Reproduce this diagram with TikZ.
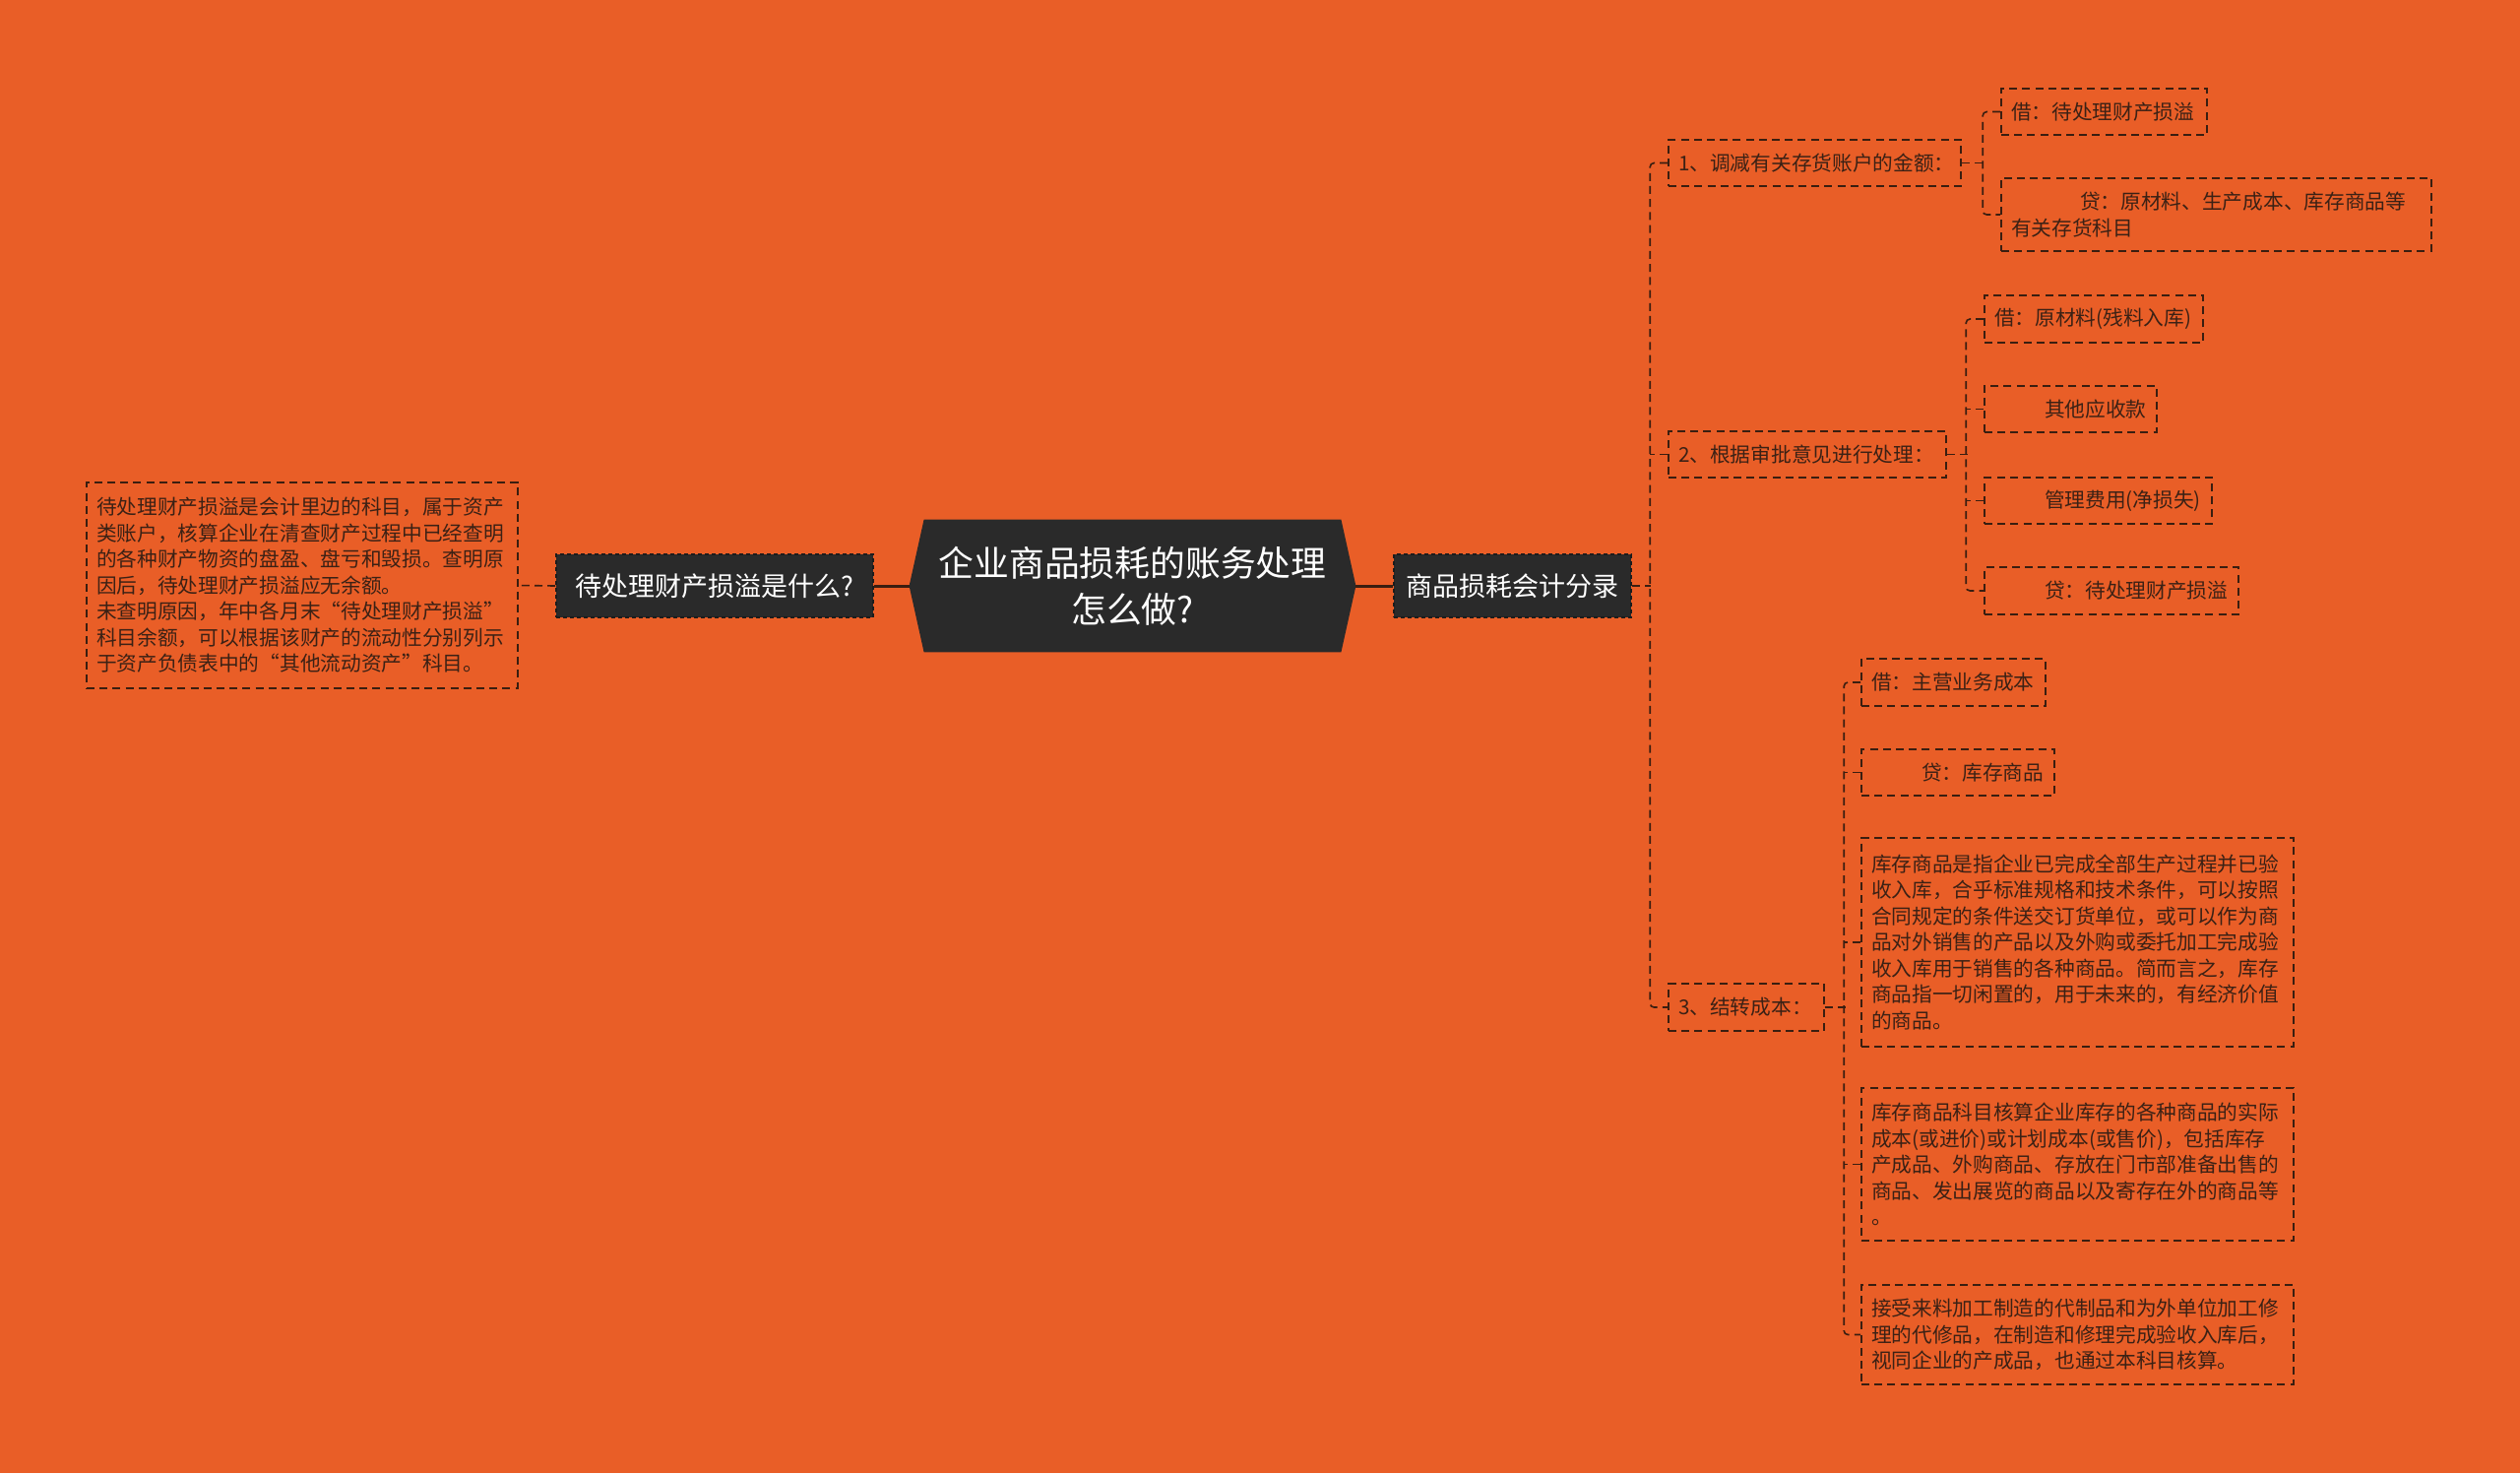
\documentclass[tikz,border=0pt]{standalone}
\usepackage{fontspec}
\setmainfont{Noto Sans CJK SC}
\usetikzlibrary{backgrounds}
\definecolor{bgc}{HTML}{E95E27}
\definecolor{lc}{HTML}{3A1E10}
\definecolor{tc}{HTML}{3B2115}
\definecolor{dkf}{HTML}{2A2A2A}
\definecolor{dkb}{HTML}{1C1C1C}
\begin{document}
\begin{tikzpicture}[x=0.5pt,y=-0.5pt,
  sm/.style={draw=lc, line width=0.8pt, dash pattern=on 4pt off 2.6pt, text=tc,
    font=\fontsize{10.35}{13.25}\selectfont, inner xsep=5pt, inner ysep=0pt, align=left},
  dk/.style={fill=dkf, draw=dkb, line width=0.8pt, dash pattern=on 2pt off 1.5pt, text=white,
    font=\fontsize{13.5}{16}\selectfont, inner sep=0pt, align=center},
  conn/.style={draw=lc, line width=0.8pt, dash pattern=on 4pt off 2.6pt, rounded corners=2pt},
  mainc/.style={draw=lc, line width=1.5pt}
]
\begin{scope}[on background layer]
\fill[bgc] (0,0) rectangle (2560,1496);
\end{scope}
\useasboundingbox (0,0) rectangle (2560,1496);

% centre
\node[text=white, font=\fontsize{17.9}{23.7}\selectfont, align=center, inner sep=0pt,
  minimum width=226.5pt, minimum height=67pt] (cn) at (1150.5,595)
  {企业商品损耗的账务处理\\怎么做?};
\begin{scope}[on background layer]
\fill[dkf] (cn.west) -- ([xshift=7.5pt]cn.north west) -- ([xshift=-7.5pt]cn.north east)
  -- (cn.east) -- ([xshift=-7.5pt]cn.south east) -- ([xshift=7.5pt]cn.south west) -- cycle;
\end{scope}

\node[dk, minimum width=161pt, minimum height=32pt] (ln) at (726,595) {待处理财产损溢是什么?};
\node[dk, minimum width=120.5pt, minimum height=32pt] (rn) at (1536.5,595) {商品损耗会计分录};

\node[sm, minimum width=219pt, minimum height=104.5pt, text width=209pt] (lt) at (307,594.5)
{待处理财产损溢是会计里边的科目，属于资产\\
类账户，核算企业在清查财产过程中已经查明\\
的各种财产物资的盘盈、盘亏和毁损。查明原\\
因后，待处理财产损溢应无余额。\\
未查明原因，年中各月末“待处理财产损溢”\\
科目余额，可以根据该财产的流动性分别列示\\
于资产负债表中的“其他流动资产”科目。};

% level 1
\node[sm, minimum width=148.5pt, minimum height=23.5pt, text width=138.5pt] (n1) at (1843.5,165.5) {1、调减有关存货账户的金额：};
\node[sm, minimum width=141pt, minimum height=23.5pt, text width=131pt] (n2) at (1836,461.5) {2、根据审批意见进行处理：};
\node[sm, minimum width=79pt, minimum height=24pt, text width=69pt] (n3) at (1774,1023) {3、结转成本：};

% level 2 under n1
\node[sm, minimum width=104.5pt, minimum height=23.5pt, text width=94.5pt] (c11) at (2137.5,113.5) {借：待处理财产损溢};
\node[sm, minimum width=218.5pt, minimum height=37pt, text width=208.5pt] (c12) at (2251.5,218)
{\hspace*{35pt}贷：原材料、生产成本、库存商品等\\有关存货科目};

% level 2 under n2
\node[sm, minimum width=111pt, minimum height=24pt, text width=101pt] (c21) at (2127,324) {借：原材料(残料入库)};
\node[sm, minimum width=87.5pt, minimum height=23.5pt, text width=77.5pt] (c22) at (2103.5,415.5) {\hspace*{25.5pt}其他应收款};
\node[sm, minimum width=115.5pt, minimum height=23.5pt, text width=105.5pt] (c23) at (2131.5,508.5) {\hspace*{25.5pt}管理费用(净损失)};
\node[sm, minimum width=129pt, minimum height=24pt, text width=119pt] (c24) at (2145,600) {\hspace*{25.5pt}贷：待处理财产损溢};

% level 2 under n3
\node[sm, minimum width=93.5pt, minimum height=24pt, text width=83.5pt] (c31) at (1984.5,693) {借：主营业务成本};
\node[sm, minimum width=98pt, minimum height=23.5pt, text width=88pt] (c32) at (1989,784.5) {\hspace*{25.5pt}贷：库存商品};
\node[sm, minimum width=219.5pt, minimum height=106pt, text width=209.5pt] (c33) at (2110.5,957)
{库存商品是指企业已完成全部生产过程并已验\\
收入库，合乎标准规格和技术条件，可以按照\\
合同规定的条件送交订货单位，或可以作为商\\
品对外销售的产品以及外购或委托加工完成验\\
收入库用于销售的各种商品。简而言之，库存\\
商品指一切闲置的，用于未来的，有经济价值\\
的商品。};
\node[sm, minimum width=219.5pt, minimum height=77.5pt, text width=209.5pt] (c34) at (2110.5,1182.5)
{库存商品科目核算企业库存的各种商品的实际\\
成本(或进价)或计划成本(或售价)，包括库存\\
产成品、外购商品、存放在门市部准备出售的\\
商品、发出展览的商品以及寄存在外的商品等\\
。};
\node[sm, minimum width=219.5pt, minimum height=50.5pt, text width=209.5pt] (c35) at (2110.5,1355.5)
{接受来料加工制造的代制品和为外单位加工修\\
理的代修品，在制造和修理完成验收入库后，\\
视同企业的产成品，也通过本科目核算。};

% connectors
\draw[mainc] (cn.west) -- (ln.east);
\draw[mainc] (cn.east) -- (rn.west);
\draw[conn] (ln.west) -- (lt.east);

\coordinate (t0) at (1677,595);
\draw[conn] (rn.east) -- (t0);
\draw[conn] (n1.west) -- ++(-18,0) |- (n3.west);
\draw[conn] (n2.west) -- ++(-18,0);

\draw[conn] (n1.east) -- ++(23,0);
\draw[conn] (c11.west) -- ++(-18,0) |- (c12.west);

\draw[conn] (n2.east) -- ++(21,0);
\draw[conn] (c21.west) -- ++(-18,0) |- (c24.west);
\draw[conn] (c22.west) -- ++(-18,0);
\draw[conn] (c23.west) -- ++(-18,0);

\draw[conn] (n3.east) -- ++(21,0);
\draw[conn] (c31.west) -- ++(-17,0) |- (c35.west);
\draw[conn] (c32.west) -- ++(-17,0);
\draw[conn] (c33.west) -- ++(-17,0);
\draw[conn] (c34.west) -- ++(-17,0);
\end{tikzpicture}
\end{document}
